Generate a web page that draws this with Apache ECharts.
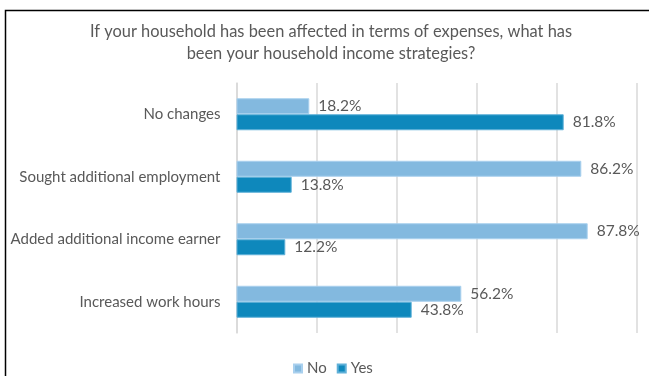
<!DOCTYPE html>
<html>
<head>
<meta charset="utf-8">
<script src="https://cdn.jsdelivr.net/npm/echarts@6/dist/echarts.min.js"></script>
<style>
  html, body { margin: 0; padding: 0; background: #fff; }
  #chart { width: 649px; height: 376px; }
</style>
</head>
<body>
<div id="chart"></div>
<script>
// Survey answers, listed top to bottom
const categories = [
  'No changes',
  'Sought additional employment',
  'Added additional income earner',
  'Increased work hours'
];
const noValues = [18.2, 86.2, 87.8, 56.2];
const yesValues = [81.8, 13.8, 12.2, 43.8];
const seriesNames = ['No', 'Yes'];

const textGray = '#595959';
const labelFont = 'Lato, "Noto Sans", sans-serif';

const chart = echarts.init(document.getElementById('chart'), null, { renderer: 'canvas' });

function barLabel() {
  return {
    show: true,
    position: 'right',
    distance: 9,
    color: textGray,
    fontFamily: labelFont,
    fontSize: 15.5,
    formatter: p => p.value.toFixed(1) + '%'
  };
}

chart.setOption({
  backgroundColor: '#ffffff',
  animation: false,
  title: {
    text: 'If your household has been affected in terms of expenses, what has\nbeen your household income strategies?',
    left: 326,
    top: 16,
    textAlign: 'center',
    textStyle: {
      color: textGray,
      fontFamily: labelFont,
      fontSize: 16.4,
      fontWeight: 'normal',
      lineHeight: 22,
      align: 'center'
    }
  },
  legend: {
    data: seriesNames,
    top: 358,
    left: 290,
    padding: [3, 3],
    itemWidth: 8,
    itemHeight: 8,
    itemGap: 10,
    icon: 'rect',
    textStyle: { color: textGray, fontFamily: labelFont, fontSize: 15 }
  },
  grid: { left: 236.5, right: 12.5, top: 83, bottom: 43 },
  xAxis: {
    type: 'value',
    min: 0,
    max: 100,
    interval: 20,
    axisLabel: { show: false },
    axisLine: { show: false },
    axisTick: { show: false },
    splitLine: { show: true, lineStyle: { color: '#d9d9d9', width: 1.5 } }
  },
  yAxis: {
    type: 'category',
    data: categories,
    inverse: true,
    axisLine: { show: true, lineStyle: { color: '#d9d9d9', width: 1.5 } },
    axisTick: { show: false },
    axisLabel: {
      color: textGray,
      fontFamily: labelFont,
      fontSize: 15,
      margin: 16
    }
  },
  series: [
    {
      name: 'No',
      type: 'bar',
      data: noValues,
      barWidth: 16,
      barGap: '0%',
      itemStyle: { color: '#83b9df', borderColor: '#a9d0ee', borderWidth: 1 },
      label: barLabel()
    },
    {
      name: 'Yes',
      type: 'bar',
      data: yesValues,
      barWidth: 16,
      barGap: '0%',
      itemStyle: { color: '#0e88bc', borderColor: '#5fb0d8', borderWidth: 1 },
      label: barLabel()
    }
  ],
  graphic: [
    {
      type: 'polyline',
      shape: { points: [[5.5, 376], [5.5, 10.5], [649, 10.5]] },
      style: { stroke: '#000', lineWidth: 1.5, fill: null },
      silent: true
    }
  ]
});
</script>
</body>
</html>
